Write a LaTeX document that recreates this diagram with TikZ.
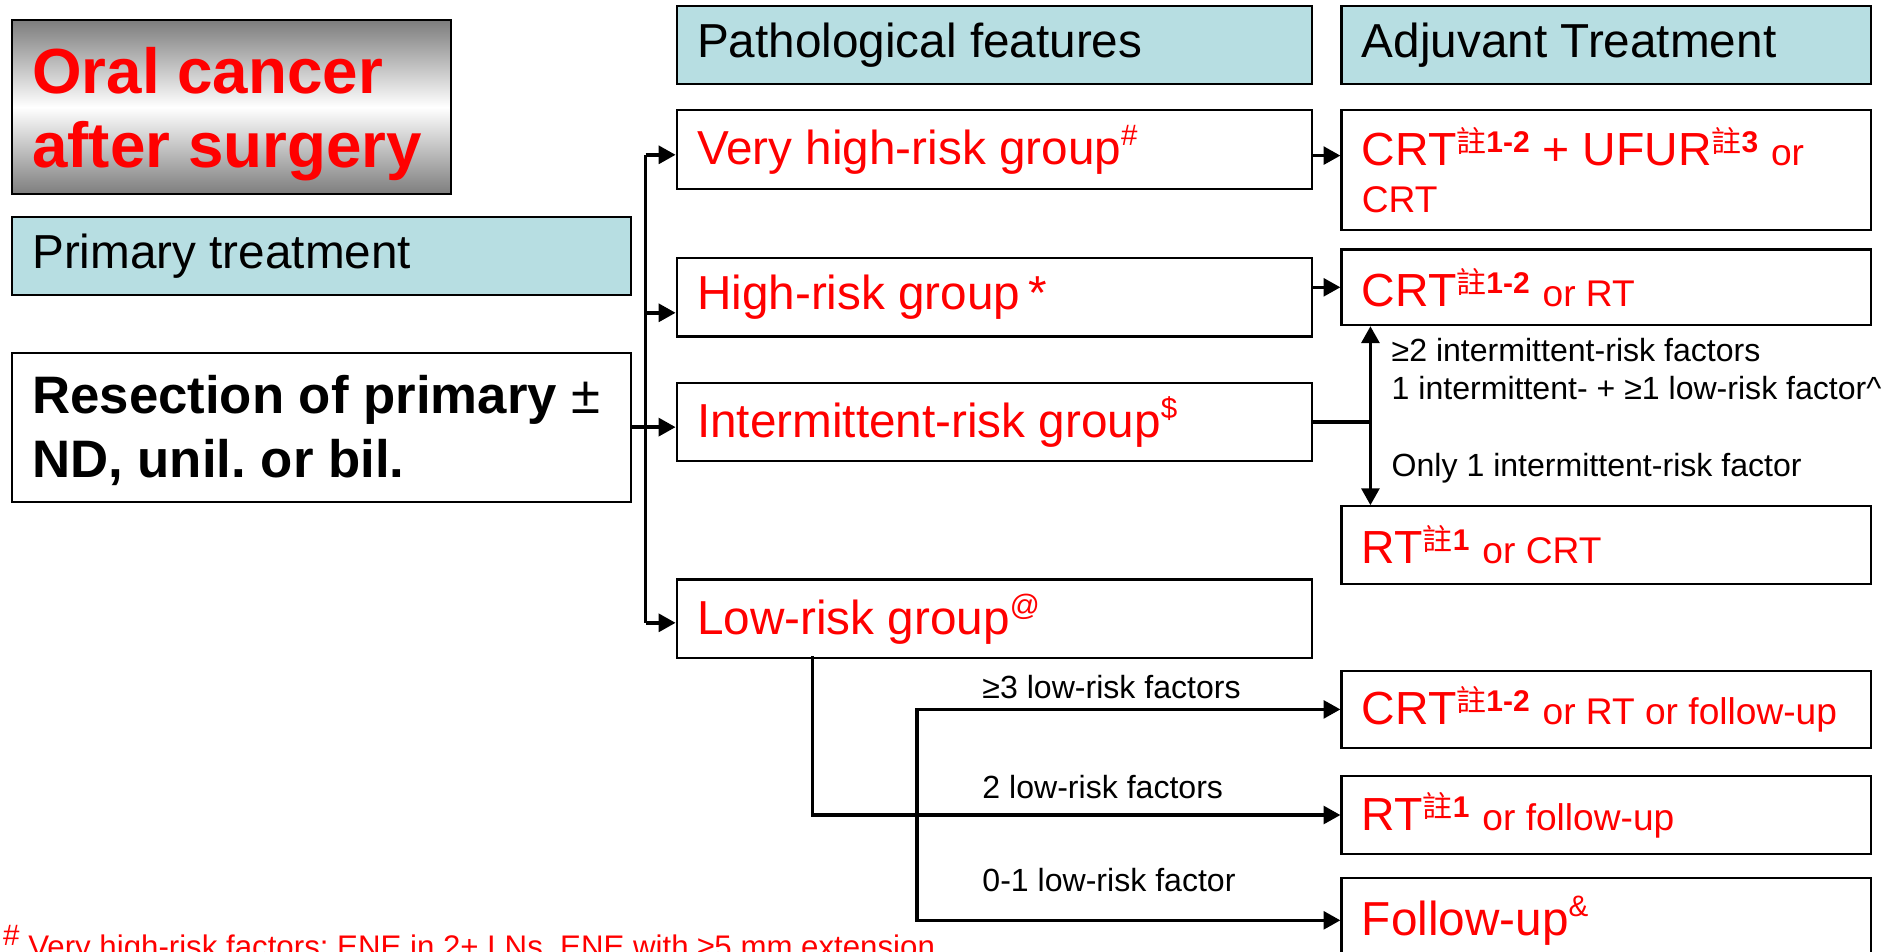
\documentclass[tikz,border=0pt]{standalone}
\usepackage{fontspec}
\setmainfont{Liberation Sans}
\newfontfamily\cjk{Noto Sans CJK TC}
\usepackage{tikz}
\usetikzlibrary{positioning,arrows.meta}
\frenchspacing
\definecolor{headerColor}{RGB}{183,222,226}
\definecolor{titleGray}{RGB}{125,125,125}
\definecolor{riskRed}{RGB}{255,0,0}
\tikzstyle{diagram} = [x = 0.01cm, y = -0.01cm]
\tikzstyle{boxStyle} = [draw=black, line width=0.5pt, anchor=north west, align=flush left, inner xsep=0.17cm, inner ysep=0pt]
\tikzstyle{headerStyle} = [boxStyle, fill=headerColor, font=\fontsize{11.3}{13}\selectfont, minimum height=0.65cm]
\tikzstyle{groupStyle} = [boxStyle, text=riskRed, font=\fontsize{11.3}{13}\selectfont, text width=4.95cm, minimum height=0.655cm]
\tikzstyle{treatStyle} = [boxStyle, text=riskRed, font=\fontsize{11}{11.1}\selectfont, text width=4.07cm, minimum height=0.645cm]
\tikzstyle{plainLine} = [line width=0.85pt]
\tikzstyle{arrowLine} = [plainLine, -{Triangle[length=4pt,width=4.2pt]}]
\tikzstyle{factorText} = [anchor=base west, inner sep=0pt, font=\fontsize{7.6}{9}\selectfont]
\newcommand{\zhu}[1]{\raisebox{3.1pt}{\fontsize{7.1}{8}\selectfont{\cjk 註}\textbf{#1}}}
\newcommand{\orText}[1]{{\fontsize{8.8}{10}\selectfont #1}}
\newcommand{\supMark}[1]{\raisebox{0.75ex}{\fontsize{7}{8}\selectfont #1}}

\begin{document}
\begin{tikzpicture}[diagram]
  \useasboundingbox (0,0) rectangle (1568.3,792.5);
  \fill[white] (0,0) rectangle (1568.3,792.5);

  \node[boxStyle, text width=3.32cm, minimum height=1.45cm, text depth=17.4pt, top color=titleGray, bottom color=titleGray, middle color=white, text=riskRed, font=\fontsize{15.1}{17.6}\selectfont\bfseries] (title) at (9,16) {Oral cancer\\after surgery};
  \node[headerStyle, text width=4.82cm] (primary) at (9,180) {Primary treatment};
  \node[boxStyle, text width=4.82cm, minimum height=1.24cm, text depth=15.4pt, font=\fontsize{12.5}{15.2}\selectfont\bfseries] (resection) at (9,293) {Resection of primary {\mdseries ±}\\ND, unil. or bil.};

  \node[headerStyle, text width=4.95cm] (pathHead) at (563,4) {Pathological features};
  \node[headerStyle, text width=4.07cm] (adjHead) at (1117,4) {Adjuvant Treatment};

  \node[groupStyle] (vhigh) at (563,91) {Very high-risk group\supMark{\#}};
  \node[groupStyle] (high) at (563,214) {High-risk group\,*};
  \node[groupStyle] (inter) at (563,318) {Intermittent-risk group\supMark{\$}};
  \node[groupStyle] (low) at (563,482) {Low-risk group\supMark{@}};

  \node[treatStyle, minimum height=1.0cm] (adj1) at (1117,91) {CRT\zhu{1-2} + UFUR\zhu{3} \orText{or}\\\orText{CRT}};
  \node[treatStyle, minimum height=0.63cm] (adj2) at (1117,207) {CRT\zhu{1-2} \orText{or RT}};
  \node[treatStyle] (adj3) at (1117,421) {RT\zhu{1} \orText{or CRT}};
  \node[treatStyle] (adj4) at (1117,558) {CRT\zhu{1-2} \orText{or RT or follow-up}};
  \node[treatStyle] (adj5) at (1117,646) {RT\zhu{1} \orText{or follow-up}};
  \node[treatStyle, minimum height=0.7cm, font=\fontsize{11.3}{13}\selectfont] (adj6) at (1117,731) {Follow-up\supMark{\&}};

  \coordinate (trunkTop) at (538,129);
  \coordinate (trunkBottom) at (538,519);
  \draw[plainLine] (trunkTop) -- (trunkBottom);
  \draw[arrowLine] (trunkTop) -- (trunkTop -| vhigh.west);
  \draw[arrowLine] ([yshift=-0.13cm]high.west -| trunkTop) -- ([yshift=-0.13cm]high.west);
  \draw[arrowLine] (resection.east) -- (resection.east -| inter.west);
  \draw[arrowLine] (trunkBottom) -- (trunkBottom -| low.west);

  \draw[arrowLine] ([yshift=-0.05cm]vhigh.east) -- ([yshift=-0.05cm]vhigh.east -| adj1.west);
  \draw[arrowLine] (high.east |- adj2.west) -- (adj2.west);

  \coordinate (interSplit) at (1142,352);
  \draw[plainLine] (inter.east) -- (inter.east -| interSplit);
  \draw[arrowLine] (interSplit) -- (interSplit |- adj2.south);
  \draw[arrowLine] (interSplit) -- (interSplit |- adj3.north);
  \node[factorText] (interTwo) at (1159,301) {≥2 intermittent-risk factors};
  \node[factorText] (interMix) at (1159,333) {1 intermittent- + ≥1 low-risk factor\textasciicircum};
  \node[factorText] (interOne) at (1159,397) {Only 1 intermittent-risk factor};

  \coordinate (lowDrop) at (677,547);
  \coordinate (lowFork) at (764,678);
  \draw[arrowLine] (lowDrop) |- (adj5.west);
  \draw[arrowLine] (lowFork) |- (adj4.west);
  \draw[arrowLine] (lowFork) |- (adj6.west);
  \node[factorText] (lowThree) at (818,582) {≥3 low-risk factors};
  \node[factorText] (lowTwo) at (818,665) {2 low-risk factors};
  \node[factorText] (lowOne) at (818,743) {0-1 low-risk factor};

  \node[factorText, text=riskRed, font=\fontsize{7.4}{9}\selectfont] (footnote) at (2,798) {\supMark{\#} Very high-risk factors: ENE in 2+ LNs, ENE with ≥5 mm extension};
\end{tikzpicture}
\end{document}
